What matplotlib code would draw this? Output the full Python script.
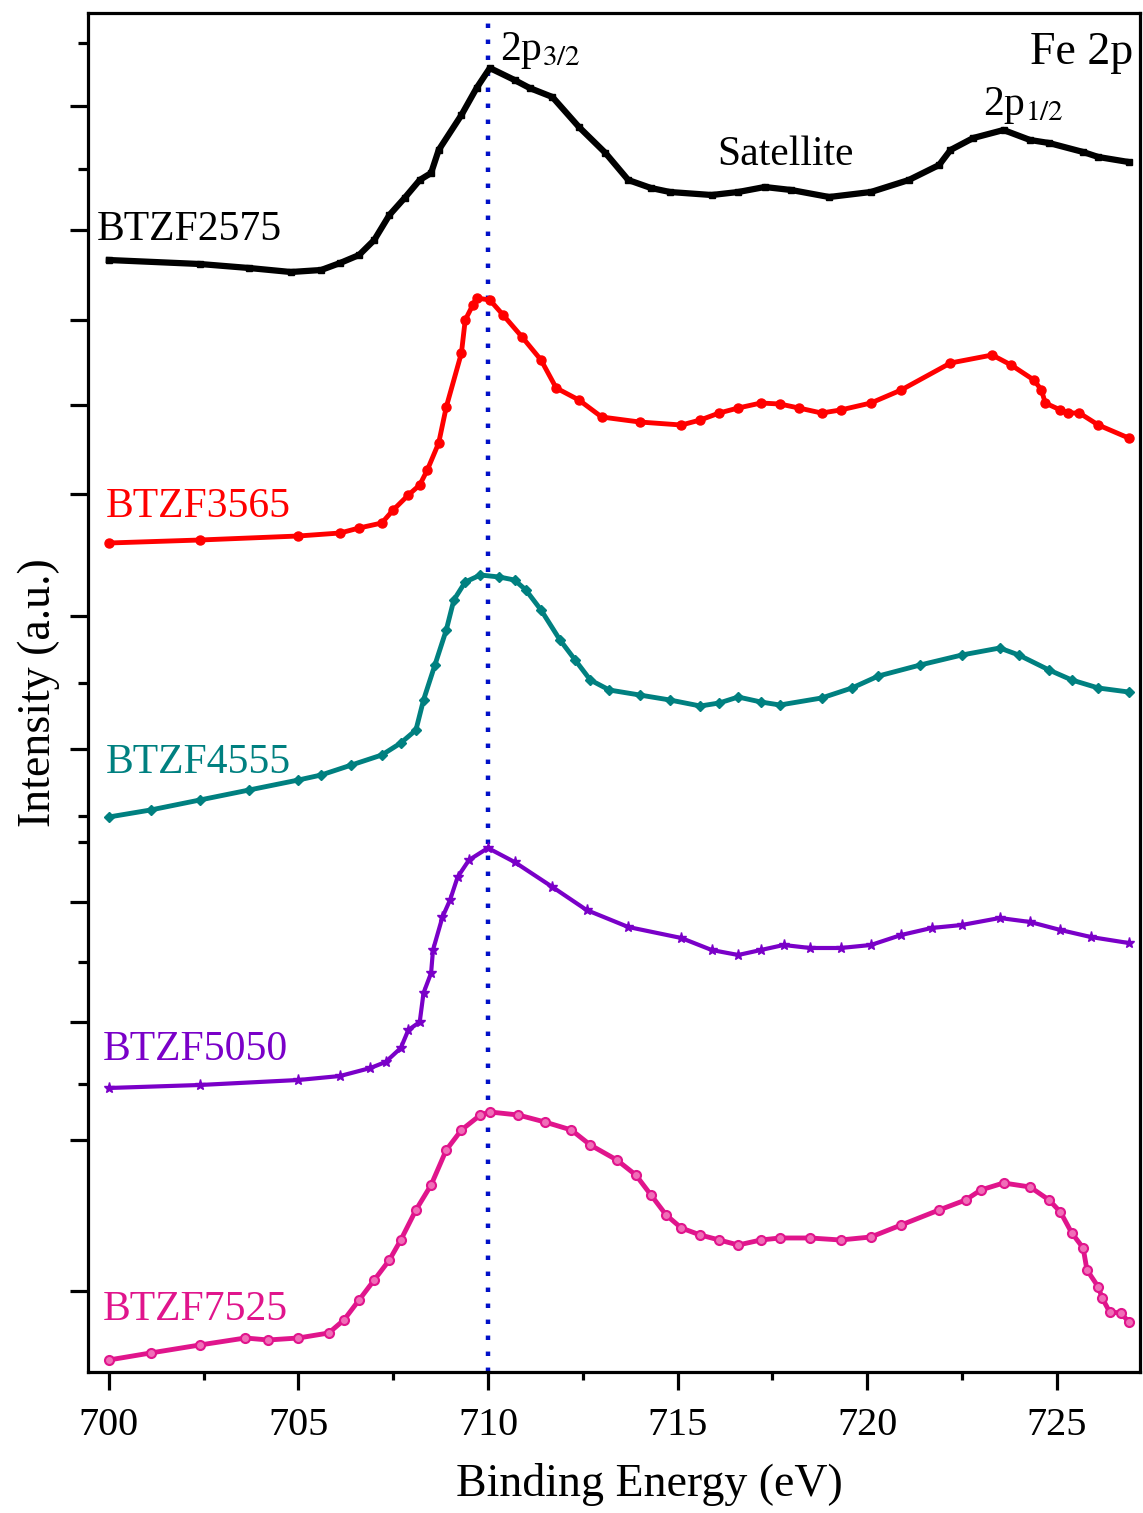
import matplotlib
matplotlib.use("Agg")
import matplotlib.pyplot as plt
from matplotlib.ticker import FixedLocator, MultipleLocator, NullFormatter

plt.rcParams['font.family'] = ['Liberation Serif', 'DejaVu Serif']
plt.rcParams['mathtext.fontset'] = 'stix'

# binding energy (eV) and stacked intensity (a.u.) for each sample
e_2575 = [700.0, 702.4, 703.7, 704.8, 705.6, 706.1, 706.6, 707.0, 707.4, 707.8, 708.2, 708.5,
          708.7, 709.3, 709.7, 710.05, 710.7, 711.1, 711.7, 712.4, 713.1, 713.7, 714.3, 714.8,
          715.9, 716.6, 717.3, 718.0, 719.0, 720.1, 721.1, 721.9, 722.2, 722.8, 723.6, 724.3,
          724.8, 725.7, 726.1, 726.9]
i_2575 = [11.12, 11.08, 11.04, 11.00, 11.02, 11.09, 11.17, 11.32, 11.57, 11.74, 11.92, 11.99,
          12.22, 12.57, 12.84, 13.04, 12.92, 12.84, 12.75, 12.45, 12.19, 11.92, 11.84, 11.80,
          11.77, 11.80, 11.85, 11.82, 11.75, 11.80, 11.92, 12.07, 12.22, 12.34, 12.42, 12.32,
          12.29, 12.20, 12.15, 12.10]

e_3565 = [700.0, 702.4, 705.0, 706.1, 706.6, 707.2, 707.5, 707.9, 708.2, 708.4, 708.7, 708.9,
          709.3, 709.4, 709.6, 709.7, 710.05, 710.4, 710.9, 711.4, 711.8, 712.4, 713.0, 714.0,
          715.1, 715.6, 716.1, 716.6, 717.2, 717.7, 718.2, 718.8, 719.3, 720.1, 720.9, 722.2,
          723.3, 723.8, 724.4, 724.6, 724.7, 725.1, 725.3, 725.6, 726.1, 726.9]
i_3565 = [8.29, 8.32, 8.36, 8.39, 8.44, 8.49, 8.62, 8.77, 8.87, 9.02, 9.29, 9.65,
          10.19, 10.52, 10.67, 10.74, 10.72, 10.57, 10.35, 10.12, 9.84, 9.72, 9.55, 9.50,
          9.47, 9.52, 9.59, 9.64, 9.69, 9.68, 9.64, 9.59, 9.62, 9.69, 9.82, 10.09,
          10.17, 10.07, 9.92, 9.82, 9.69, 9.62, 9.59, 9.59, 9.47, 9.34]

e_4555 = [700.0, 701.1, 702.4, 703.7, 705.0, 705.6, 706.4, 707.2, 707.7, 708.1, 708.3, 708.6,
          708.9, 709.1, 709.4, 709.8, 710.3, 710.7, 711.0, 711.4, 711.9, 712.3, 712.7, 713.2,
          714.0, 714.8, 715.6, 716.1, 716.6, 717.2, 717.7, 718.8, 719.6, 720.3, 721.4, 722.5,
          723.5, 724.0, 724.8, 725.4, 726.1, 726.9]
i_4555 = [5.55, 5.62, 5.72, 5.82, 5.92, 5.97, 6.07, 6.17, 6.29, 6.42, 6.72, 7.07,
          7.42, 7.72, 7.90, 7.97, 7.95, 7.92, 7.82, 7.62, 7.32, 7.12, 6.92, 6.82,
          6.77, 6.72, 6.66, 6.69, 6.75, 6.70, 6.67, 6.74, 6.84, 6.96, 7.07, 7.17,
          7.24, 7.17, 7.02, 6.92, 6.84, 6.80]

e_5050 = [700.0, 702.4, 705.0, 706.1, 706.9, 707.3, 707.7, 707.9, 708.2, 708.3, 708.5, 708.55,
          708.8, 709.0, 709.2, 709.5, 710.0, 710.7, 711.7, 712.6, 713.7, 715.1, 715.9, 716.6,
          717.2, 717.8, 718.5, 719.3, 720.1, 720.9, 721.7, 722.5, 723.5, 724.3, 725.1, 725.9,
          726.9]
i_5050 = [2.84, 2.87, 2.92, 2.96, 3.04, 3.10, 3.24, 3.42, 3.50, 3.79, 3.99, 4.22,
          4.55, 4.72, 4.95, 5.12, 5.24, 5.10, 4.85, 4.62, 4.45, 4.34, 4.22, 4.17,
          4.22, 4.27, 4.24, 4.24, 4.27, 4.37, 4.44, 4.47, 4.54, 4.50, 4.42, 4.35,
          4.29]

e_7525 = [700.0, 701.1, 702.4, 703.6, 704.2, 705.0, 705.8, 706.2, 706.6, 707.0, 707.4, 707.7,
          708.1, 708.5, 708.9, 709.3, 709.8, 710.05, 710.8, 711.5, 712.2, 712.7, 713.4, 713.9,
          714.3, 714.7, 715.1, 715.6, 716.1, 716.6, 717.2, 717.7, 718.5, 719.3, 720.1, 720.9,
          721.9, 722.6, 723.0, 723.6, 724.3, 724.8, 725.1, 725.4, 725.7, 725.8, 726.1, 726.2,
          726.4, 726.7, 726.9]
i_7525 = [0.12, 0.19, 0.27, 0.34, 0.32, 0.34, 0.39, 0.52, 0.72, 0.92, 1.12, 1.32,
          1.62, 1.87, 2.22, 2.42, 2.57, 2.60, 2.57, 2.50, 2.42, 2.27, 2.12, 1.97,
          1.77, 1.57, 1.44, 1.37, 1.32, 1.27, 1.32, 1.34, 1.34, 1.32, 1.35, 1.47,
          1.62, 1.72, 1.82, 1.89, 1.85, 1.72, 1.60, 1.39, 1.24, 1.02, 0.85, 0.74,
          0.60, 0.59, 0.50]

names = ['BTZF2575', 'BTZF3565', 'BTZF4555', 'BTZF5050', 'BTZF7525']
label_pos = [(699.68, 11.42), (699.92, 8.65), (699.92, 6.09), (699.84, 3.22), (699.84, 0.62)]

y_major = [12.66, 11.42, 10.52, 9.67, 8.78, 7.56, 6.23, 4.70, 3.50, 2.32, 0.81]
y_minor = [13.29, 12.03, 6.89, 5.56, 5.30, 4.10, 2.88]

fig = plt.figure(figsize=(11.43, 15.13), dpi=100)
ax = fig.add_axes([0.077, 0.0932, 0.9204, 0.8982])

ax.axvline(710.0, color='#0010C8', ls=(0, (1, 2.6)), lw=3.2, zorder=1)

ax.plot(e_2575, i_2575, color='black', lw=4.5, marker='s', ms=4, zorder=3)
ax.plot(e_3565, i_3565, color='#FF0000', lw=3.5, marker='o', ms=6.5, zorder=3)
ax.plot(e_4555, i_4555, color='#008080', lw=3.5, marker='D', ms=5.5, zorder=3)
ax.plot(e_5050, i_5050, color='#7A00C8', lw=3, marker='*', ms=8, zorder=3)
ax.plot(e_7525, i_7525, color='#E0158C', lw=3.5, marker='o', ms=6.5,
        mfc='#F06EB8', mec='#E0158C', mew=1.5, zorder=3)

colors = ['black', '#FF0000', '#008080', '#7A00C8', '#E0158C']
for n, (x, y), c in zip(names, label_pos, colors):
    ax.text(x, y, n, color=c, fontsize=30, ha='left', va='center')

ax.text(710.32, 13.22, '2p$_{3/2}$', fontsize=30, ha='left', va='center')
ax.text(717.84, 12.17, 'Satellite', fontsize=30, ha='center', va='center')
ax.text(723.06, 12.67, '2p$_{1/2}$', fontsize=30, ha='left', va='center')
ax.text(727.02, 13.19, 'Fe 2p', fontsize=33, ha='right', va='center')

ax.set_xlim(699.45, 727.2)
ax.set_ylim(0, 13.59)
ax.xaxis.set_major_locator(MultipleLocator(5))
ax.xaxis.set_minor_locator(MultipleLocator(2.5))
ax.yaxis.set_major_locator(FixedLocator(y_major))
ax.yaxis.set_minor_locator(FixedLocator(y_minor))
ax.yaxis.set_major_formatter(NullFormatter())

ax.tick_params(axis='x', which='major', direction='out', length=13, width=2.3,
               labelsize=29, pad=12)
ax.tick_params(axis='x', which='minor', direction='out', length=6, width=2.3)
ax.tick_params(axis='y', which='major', direction='out', length=13, width=2.3)
ax.tick_params(axis='y', which='minor', direction='out', length=7, width=2.3)
for s in ax.spines.values():
    s.set_linewidth(2.3)

ax.set_xlabel('Binding Energy (eV)', fontsize=33)
ax.xaxis.set_label_coords(0.534, -0.067)
ax.set_ylabel('Intensity (a.u.)', fontsize=33, labelpad=4)

fig.savefig('out.png', dpi=100)
